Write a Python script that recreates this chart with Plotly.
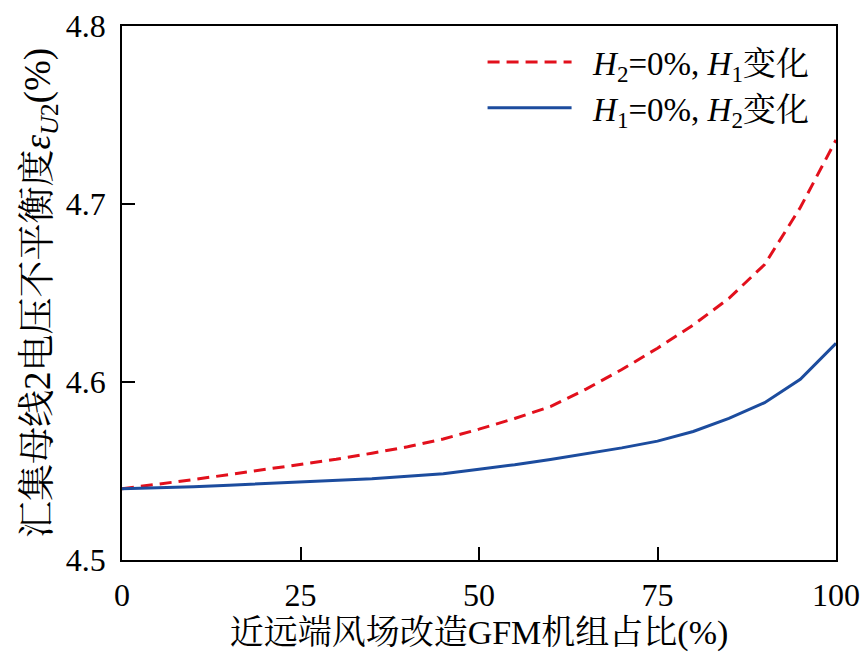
import plotly.graph_objects as go

x_pct = [0, 5, 10, 15, 20, 25, 30, 35, 40, 45, 50, 55, 60, 65, 70, 75, 80, 85, 90, 95, 100]
h2_zero_h1_vary = [4.540, 4.5425, 4.5452, 4.5480, 4.5508, 4.5536, 4.5566, 4.5600, 4.5636,
                   4.5680, 4.5735, 4.5795, 4.5862, 4.5960, 4.6070, 4.6190, 4.6320, 4.6470,
                   4.6660, 4.6980, 4.7360]
h1_zero_h2_vary = [4.540, 4.5405, 4.5412, 4.5420, 4.5428, 4.5436, 4.5445, 4.5456, 4.5470,
                   4.5485, 4.5510, 4.5535, 4.5565, 4.5598, 4.5630, 4.5668, 4.5722, 4.5796,
                   4.5884, 4.6015, 4.6217]
x_ticks = [0, 25, 50, 75, 100]
y_ticks = [4.5, 4.6, 4.7, 4.8]
y_tick_text = ["4.5", "4.6", "4.7", "4.8"]

FONT = "Liberation Serif, Times New Roman, Noto Serif CJK SC, Noto Sans CJK SC, serif"

fig = go.Figure()
fig.add_trace(go.Scatter(
    x=x_pct, y=h2_zero_h1_vary, mode="lines",
    name="\u2002<i>H</i><sub>2</sub>=0%, <i>H</i><sub>1</sub>变化",
    line=dict(color="#e2101c", width=3, dash="12px,7px"),
))
fig.add_trace(go.Scatter(
    x=x_pct, y=h1_zero_h2_vary, mode="lines",
    name="\u2002<i>H</i><sub>1</sub>=0%, <i>H</i><sub>2</sub>变化",
    line=dict(color="#1c4c9e", width=3),
))

axis_common = dict(
    showline=True, linecolor="black", linewidth=1.5, mirror=True,
    ticks="inside", ticklen=13, tickwidth=1.5, tickcolor="black",
    showgrid=False, zeroline=False, automargin=False,
    tickfont=dict(family=FONT, size=32, color="black"),
)

fig.update_layout(
    width=862, height=670,
    margin=dict(l=122, r=26, t=26, b=110, autoexpand=False),
    paper_bgcolor="white", plot_bgcolor="white",
    font=dict(family=FONT, size=32, color="black"),
    hovermode=False,
    showlegend=True,
    legend=dict(
        x=0.505, y=0.985, xanchor="left", yanchor="top",
        bgcolor="rgba(0,0,0,0)", borderwidth=0,
        font=dict(family=FONT, size=33, color="black"),
        itemwidth=84, tracegroupgap=0,
    ),
    xaxis=dict(
        range=[0, 100], tickvals=x_ticks,
        title=dict(text="近远端风场改造GFM机组占比(%)", font=dict(family=FONT, size=34), standoff=8),
        ticklabelstandoff=6,
        **axis_common,
    ),
    yaxis=dict(
        range=[4.5, 4.8], tickvals=y_ticks, ticktext=y_tick_text,
        title=dict(text="汇集母线2电压不平衡度<i>ε</i><sub><i>U</i>2</sub>(%)\u2002", font=dict(family=FONT, size=37), standoff=4),
        ticklabelstandoff=8,
        **axis_common,
    ),
)

fig.write_html("out.html")
